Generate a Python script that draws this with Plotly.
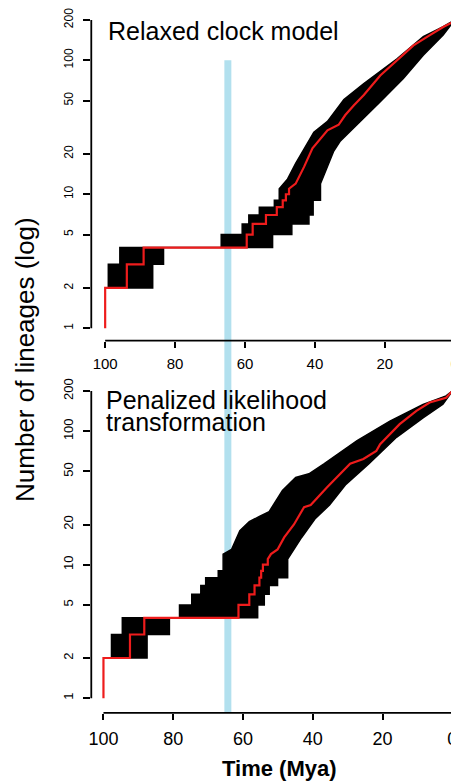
import math
import plotly.graph_objects as go

# ---------------- data ----------------
x_ticks = [100, 80, 60, 40, 20, 0]
y_ticks = [1, 2, 5, 10, 20, 50, 100, 200]
y_tick_text = ["1", "2", "5", "10", "20", "50", "100", "200"]

panel_titles = [["Relaxed clock model"], ["Penalized likelihood", "transformation"]]

# K-Pg boundary band (Mya)
kpg_band = [65.9, 63.9]
kpg_band_top_n = 100

# Relaxed clock model: red (focal) lineage-through-time curve
relaxed_red_time = [100, 100, 93.8, 89.0, 59.5, 57.8, 54.0, 50.9, 49.2, 48.3, 47.4, 45.5, 43.1, 40.7,
                    38.4, 36.4, 33.2, 31.3, 28.9, 26.0, 21.3, 16.6, 11.8, 7.1, 3.3, 0.5, 0]
relaxed_red_n = [1, 2, 3, 4, 5, 6, 7, 8, 9, 10, 11, 12, 16, 22,
                 26, 30, 33, 39, 46, 55, 77, 100, 129, 154, 177, 193, 200]
# envelope of the black bundle of trees
relaxed_upper_time = [100, 99.1, 95.8, 66.8, 60.8, 58.9, 55.9, 51.6, 50.2, 47.8, 45.5, 41.7, 40.3,
                      36.4, 31.7, 26.0, 16.6, 9.0, 3.3, 0]
relaxed_upper_n = [2, 3, 4, 5, 6, 7, 8, 9, 11, 13, 17, 25, 29,
                   35, 51, 67, 102, 150, 178, 200]
relaxed_lower_time = [100, 86.4, 83.3, 52.1, 46.6, 41.7, 40.5, 38.4, 36.9, 34.6, 32.7, 27.9, 21.3,
                      14.7, 9.0, 3.3, 0]
relaxed_lower_n = [2, 3, 4, 5, 6, 7, 9, 12, 15, 21, 25, 33, 49,
                   73, 109, 154, 200]

# Penalized likelihood transformation
penal_red_time = [100, 100, 92.4, 88.3, 61.3, 58.2, 56.7, 55.3, 54.8, 54.3, 52.9, 52.0, 50.1, 48.2,
                  45.4, 42.5, 40.6, 35.9, 29.3, 25.5, 21.8, 20.7, 15.1, 10.3, 6.5, 1.8, 0]
penal_red_n = [1, 2, 3, 4, 5, 6, 7, 8, 9, 10, 11, 12, 13, 16,
               20, 27, 28, 38, 57, 62, 71, 80, 113, 142, 164, 178, 200]
penal_upper_time = [100, 97.7, 94.6, 78.2, 74.7, 72.1, 70.7, 67.1, 65.7, 63.3, 60.9, 58.2, 55.3,
                    52.5, 48.7, 44.9, 41.1, 36.8, 27.3, 17.9, 8.4, 1.8, 0]
penal_upper_n = [2, 3, 4, 5, 6, 7, 8, 9, 12, 13, 18, 21, 23,
                 25, 36, 45, 48, 57, 85, 119, 159, 184, 200]
penal_lower_time = [100, 87.5, 81.1, 55.8, 53.9, 52.5, 50.1, 47.2, 43.2, 39.4, 35.2, 30.5, 23.9,
                    16.0, 8.4, 2.7, 0]
penal_lower_n = [2, 3, 4, 5, 6, 7, 8, 11, 16, 22, 28, 40, 57,
                 90, 126, 159, 200]

# counts from which the (very dense) staircase is drawn as a continuous line
LINEAR_FROM = 11

# ---------------- layout geometry ----------------
# the page body has an 8px margin, so the figure is placed at (8, 8) in the window
WIN_W, WIN_H = 459, 782
OFF = 8
W, H = WIN_W - OFF, WIN_H - OFF
FONT = "Liberation Sans, Arial, Helvetica, sans-serif"


def px_x(px):
    return (px - OFF) / W


def py(px):
    return 1 - (px - OFF) / H


X_DOMAIN = [px_x(89), 1.0]
TOP_X_RANGE = [103.97, -0.94]
BOT_X_RANGE = [103.49, -1.62]
TOP_Y_RANGE = [-0.092, 2.375]
BOT_Y_RANGE = [-0.11, 2.39]
TOP_Y_DOMAIN = [py(339.4), py(8.0)]
BOT_Y_DOMAIN = [py(712.7), py(378.1)]


def step_vertices(times, counts):
    xs, ys = [], []
    for i in range(len(times)):
        xs.append(times[i])
        ys.append(counts[i])
        if i + 1 < len(times) and counts[i] < LINEAR_FROM and times[i + 1] != times[i]:
            xs.append(times[i + 1])
            ys.append(counts[i])
    return xs, ys


fig = go.Figure()


def add_panel(xa, ya, ut, un, lt, ln, rt, rn):
    ux, uy = step_vertices(ut, un)
    lx, ly = step_vertices(lt, ln)
    fig.add_trace(go.Scatter(
        x=ux + lx[::-1], y=uy + ly[::-1], mode="lines", fill="toself",
        fillcolor="black", line=dict(color="black", width=1.5),
        xaxis=xa, yaxis=ya, hoverinfo="skip", showlegend=False))
    rx, ry = step_vertices(rt, rn)
    fig.add_trace(go.Scatter(
        x=rx, y=ry, mode="lines", line=dict(color="#ee1c1c", width=2.2),
        xaxis=xa, yaxis=ya, hoverinfo="skip", showlegend=False))


add_panel("x", "y", relaxed_upper_time, relaxed_upper_n, relaxed_lower_time, relaxed_lower_n,
          relaxed_red_time, relaxed_red_n)
add_panel("x2", "y2", penal_upper_time, penal_upper_n, penal_lower_time, penal_lower_n,
          penal_red_time, penal_red_n)


def xaxis_cfg(rng, fsize, standoff, anchor):
    return dict(domain=X_DOMAIN, range=rng, tickvals=x_ticks, ticktext=[str(v) for v in x_ticks],
                ticks="outside", ticklen=6, tickwidth=1.8, tickcolor="black",
                showline=False, showgrid=False, zeroline=False, anchor=anchor,
                tickfont=dict(family=FONT, size=fsize, color="black"),
                ticklabelstandoff=standoff, ticklabeloverflow="allow", fixedrange=True)


def yaxis_cfg(dom, rng, fsize, anchor):
    return dict(domain=dom, type="log", range=rng, tickvals=y_ticks, ticktext=y_tick_text,
                tickangle=-90, ticks="outside", ticklen=7, tickwidth=1.8, tickcolor="black",
                showline=False, showgrid=False, zeroline=False, anchor=anchor,
                tickfont=dict(family=FONT, size=fsize, color="black"),
                ticklabelstandoff=5, ticklabeloverflow="allow", fixedrange=True)


shapes = []
# K-Pg band spanning both panels
top_frac = (math.log10(kpg_band_top_n) - TOP_Y_RANGE[0]) / (TOP_Y_RANGE[1] - TOP_Y_RANGE[0])
band_top = TOP_Y_DOMAIN[0] + top_frac * (TOP_Y_DOMAIN[1] - TOP_Y_DOMAIN[0])
shapes.append(dict(type="rect", xref="x", yref="paper", x0=kpg_band[0], x1=kpg_band[1],
                   y0=BOT_Y_DOMAIN[0], y1=band_top, fillcolor="#b2e0ee",
                   line=dict(width=0), layer="below"))
# R-style axis lines (from first to last tick)
for xr, yr in (("x", "y"), ("x2", "y2")):
    shapes.append(dict(type="line", xref=xr + " domain", yref=yr, x0=0, x1=0,
                       y0=y_ticks[0], y1=y_ticks[-1], line=dict(color="black", width=1.8)))
    shapes.append(dict(type="line", xref=xr, yref=yr + " domain", x0=x_ticks[0], x1=x_ticks[-1],
                       y0=0, y1=0, line=dict(color="black", width=1.8)))

annotations = [
    dict(text=panel_titles[0][0], x=px_x(104), y=py(29), xref="paper", yref="paper",
         xanchor="left", yanchor="middle", showarrow=False,
         font=dict(family=FONT, size=25, color="black")),
    dict(text=panel_titles[1][0], x=px_x(102), y=py(399), xref="paper", yref="paper",
         xanchor="left", yanchor="middle", showarrow=False,
         font=dict(family=FONT, size=25, color="black")),
    dict(text=panel_titles[1][1], x=px_x(102), y=py(421), xref="paper", yref="paper",
         xanchor="left", yanchor="middle", showarrow=False,
         font=dict(family=FONT, size=25, color="black")),
    dict(text="Number of lineages (log)", x=px_x(22), y=py(358), xref="paper", yref="paper",
         xanchor="center", yanchor="middle", textangle=-90, showarrow=False,
         font=dict(family=FONT, size=26, color="black")),
    dict(text="<b>Time (Mya)</b>", x=px_x(279), y=py(768), xref="paper", yref="paper",
         xanchor="center", yanchor="middle", showarrow=False,
         font=dict(family=FONT, size=22, color="black")),
]

fig.update_layout(
    width=W, height=H, autosize=False,
    margin=dict(l=0, r=0, t=0, b=0, pad=0),
    paper_bgcolor="white", plot_bgcolor="rgba(0,0,0,0)",
    showlegend=False,
    xaxis=xaxis_cfg(TOP_X_RANGE, 15, 3, "y"),
    yaxis=yaxis_cfg(TOP_Y_DOMAIN, TOP_Y_RANGE, 12, "x"),
    xaxis2=xaxis_cfg(BOT_X_RANGE, 18, 4, "y2"),
    yaxis2=yaxis_cfg(BOT_Y_DOMAIN, BOT_Y_RANGE, 13, "x2"),
    shapes=shapes,
    annotations=annotations,
)

fig.write_html("out.html", config={"displayModeBar": False})
